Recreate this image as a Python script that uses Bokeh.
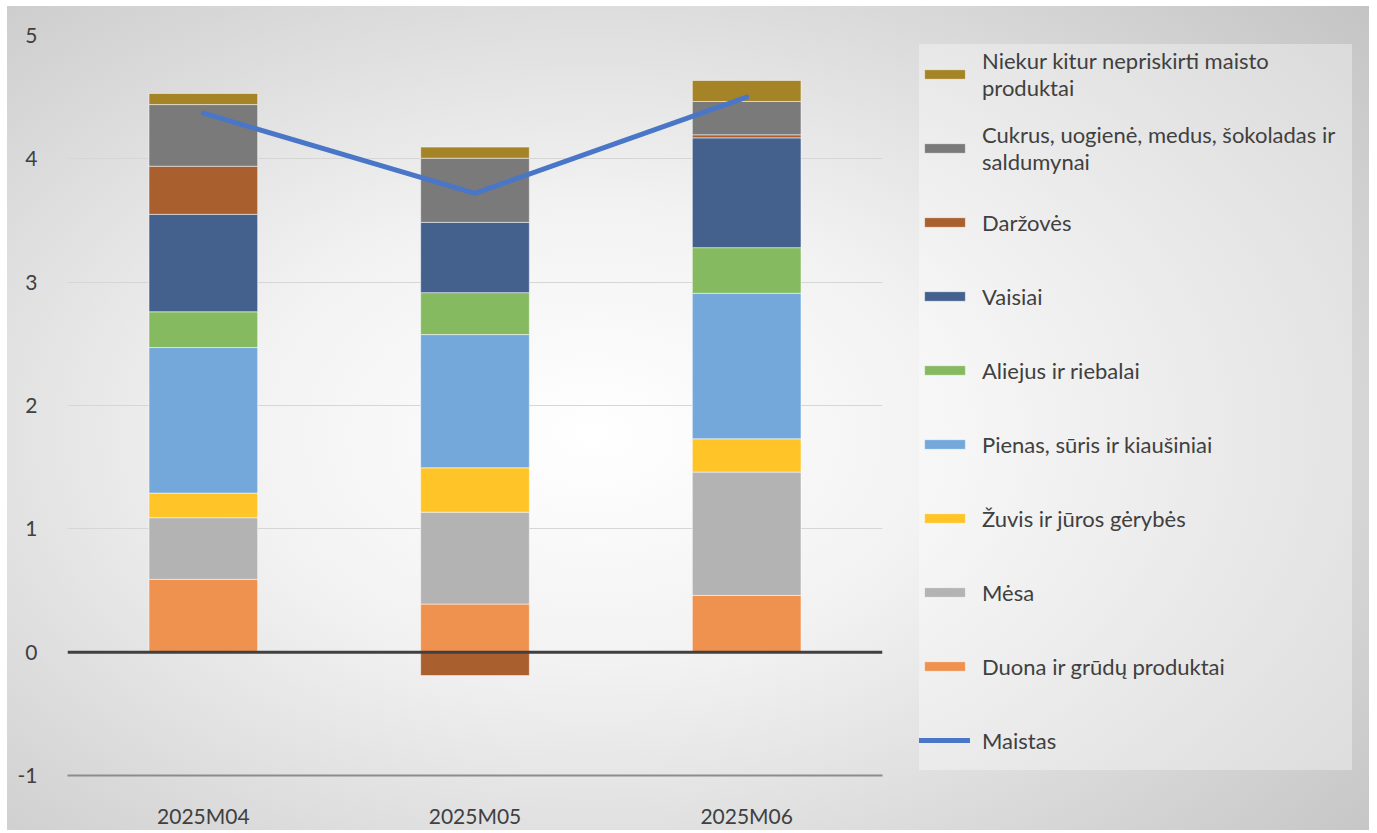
from bokeh.plotting import figure
from bokeh.models import FactorRange, Range1d, FixedTicker, Span, Legend, LegendItem, PrintfTickFormatter
from bokeh.embed import file_html
from bokeh.resources import INLINE
import numpy as np

months = ["2025M04", "2025M05", "2025M06"]

duona = [0.59, 0.39, 0.46]
mesa = [0.50, 0.745, 1.00]
zuvis = [0.20, 0.36, 0.27]
pienas = [1.18, 1.08, 1.18]
aliejus = [0.29, 0.34, 0.37]
vaisiai = [0.79, 0.57, 0.89]
darzoves = [0.39, -0.19, 0.025]
cukrus = [0.50, 0.52, 0.27]
niekur = [0.09, 0.09, 0.17]
maistas = [4.37, 3.72, 4.50]

names = ["Duona ir grūdų produktai", "Mėsa", "Žuvis ir jūros gėrybės",
         "Pienas, sūris ir kiaušiniai", "Aliejus ir riebalai", "Vaisiai",
         "Daržovės", "Cukrus, uogienė, medus, šokoladas ir\nsaldumynai",
         "Niekur kitur nepriskirti maisto\nproduktai"]
values = [duona, mesa, zuvis, pienas, aliejus, vaisiai, darzoves, cukrus, niekur]
colors = ["#EF914F", "#B3B3B3", "#FFC428", "#74A8DB", "#85BA61", "#44618E",
          "#A95F2E", "#7A7A7A", "#A58428"]
line_name = "Maistas"
line_color = "#4A76C8"
yticks = [-1, 0, 1, 2, 3, 4, 5]

FONT = "Lato"
TXT = "#404040"

p = figure(x_range=FactorRange(*months), y_range=Range1d(-1, 5),
           frame_width=815, frame_height=740, output_backend="svg", toolbar_location=None,
           min_border_left=60, min_border_right=0, min_border_top=29,
           min_border_bottom=55)
p.margin = (6, 0, 0, 7)
p.styles = {"background": "radial-gradient(ellipse 75% 80% at 43% 52%, #ffffff 0%, #f2f2f2 35%, #c4c4c4 100%)",
            "max-width": "1362px", "overflow": "hidden"}
p.border_fill_alpha = 0
p.background_fill_alpha = 0
p.outline_line_color = None

pos = np.zeros(len(months))
neg = np.zeros(len(months))
renderers = []
for vals, col in zip(values, colors):
    v = np.array(vals, dtype=float)
    bottom = np.where(v >= 0, pos, neg + v)
    top = np.where(v >= 0, pos + v, neg)
    pos = pos + np.where(v >= 0, v, 0)
    neg = neg + np.where(v < 0, v, 0)
    r = p.vbar(x=months, bottom=bottom, top=top, width=0.4, fill_color=col,
               line_color="#ffffff", line_alpha=0.5, line_width=1)
    renderers.append(r)

lr = p.line(x=months, y=maistas, line_color=line_color, line_width=5, line_cap="round")

p.add_layout(Span(location=0, dimension="width", line_color="#404040", line_width=3))

p.xgrid.grid_line_color = None
p.ygrid.grid_line_color = "#D6D6D6"
p.ygrid.ticker = FixedTicker(ticks=yticks)
p.yaxis.ticker = FixedTicker(ticks=yticks)
p.yaxis.formatter = PrintfTickFormatter(format="%d")

for ax in p.axis:
    ax.major_tick_line_color = None
    ax.minor_tick_line_color = None
    ax.major_label_text_font = FONT
    ax.major_label_text_font_size = "21px"
    ax.major_label_text_color = TXT
p.yaxis.axis_line_color = None
p.yaxis.major_label_standoff = 24
p.xaxis.axis_line_color = "#8C8C8C"
p.xaxis.axis_line_width = 2
p.xaxis.major_label_standoff = 21

items = [LegendItem(label=n, renderers=[r]) for n, r in zip(names, renderers)][::-1]
items.append(LegendItem(label=line_name, renderers=[lr]))
legend = Legend(items=items, location=(37, 5), glyph_width=51, glyph_height=12,
                label_standoff=12, label_height=60, label_width=370, spacing=14, padding=7,
                label_text_font=FONT, label_text_font_size="22px",
                label_text_color=TXT, background_fill_color="#ffffff",
                background_fill_alpha=0.35, border_line_color=None)
p.add_layout(legend, "right")

open("out.html", "w").write(file_html(p, INLINE))
